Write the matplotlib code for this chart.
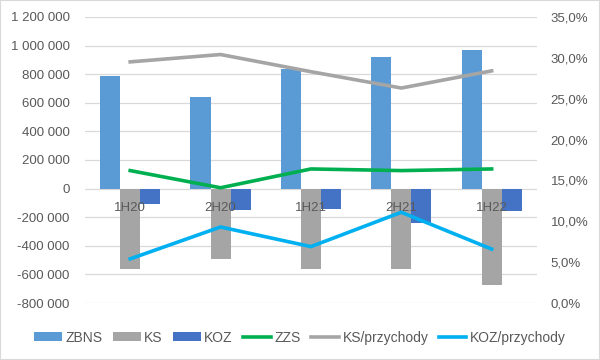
import numpy as np
import matplotlib.pyplot as plt
from matplotlib.ticker import FuncFormatter
from matplotlib.patches import Rectangle

plt.rcParams['font.family'] = ['Liberation Sans', 'DejaVu Sans']

periods = ['1H20', '2H20', '1H21', '2H21', '1H22']
zbns = [785000, 637000, 838000, 917000, 966000]
ks = [-564000, -494000, -563000, -564000, -676000]
koz = [-110000, -152000, -145000, -243000, -159000]
zzs = [0.162, 0.141, 0.164, 0.162, 0.164]
ks_przych = [0.295, 0.304, 0.283, 0.263, 0.284]
koz_przych = [0.054, 0.093, 0.069, 0.111, 0.066]

c_zbns = '#5B9BD5'
c_ks = '#A5A5A5'
c_koz = '#4472C4'
c_zzs = '#00B050'
c_kozp = '#00B0F0'
txt = '#595959'

fig = plt.figure(figsize=(6, 3.6), dpi=100)
fig.patches.append(Rectangle((0, 0), 1, 1, transform=fig.transFigure,
                             fill=False, edgecolor='#D9D9D9', lw=1.5))
ax = fig.add_axes([0.1417, 0.1583, 0.753, 0.7947])
x = np.arange(len(periods))
w = 0.222

ax.set_axisbelow(True)
ax.grid(axis='y', color='#D9D9D9', lw=0.9)
b1 = ax.bar(x - w, zbns, w, color=c_zbns, label='ZBNS')
b2 = ax.bar(x, ks, w, color=c_ks, label='KS')
b3 = ax.bar(x + w, koz, w, color=c_koz, label='KOZ')
ax.set_ylim(-800000, 1200000)
ax.set_yticks(np.arange(-800000, 1200001, 200000))
ax.yaxis.set_major_formatter(FuncFormatter(lambda v, p: f'{int(v):,}'.replace(',', ' ')))
ax.set_xlim(-0.5, len(periods) - 0.5)
ax.set_xticks([])
for s in ax.spines.values():
    s.set_visible(False)
ax.tick_params(axis='y', length=0, pad=11, labelsize=9.5, labelcolor=txt)
for i, p in enumerate(periods):
    ax.annotate(p, (i, 0), xytext=(0, -14), textcoords='offset points',
                ha='center', va='center', fontsize=9.5, color=txt, zorder=5)

ax2 = ax.twinx()
l1, = ax2.plot(x, zzs, color=c_zzs, lw=2.6, label='ZZS')
l2, = ax2.plot(x, ks_przych, color=c_ks, lw=2.6, label='KS/przychody')
l3, = ax2.plot(x, koz_przych, color=c_kozp, lw=2.6, label='KOZ/przychody')
ax2.set_ylim(0, 0.35)
ax2.set_yticks(np.arange(0, 0.351, 0.05))
ax2.yaxis.set_major_formatter(FuncFormatter(lambda v, p: f'{v*100:.1f}%'.replace('.', ',')))
for s in ax2.spines.values():
    s.set_visible(False)
ax2.tick_params(axis='y', length=0, pad=10, labelsize=9.5, labelcolor=txt)

fig.legend([b1, b2, b3, l1, l2, l3],
           ['ZBNS', 'KS', 'KOZ', 'ZZS', 'KS/przychody', 'KOZ/przychody'],
           loc='center', bbox_to_anchor=(0.5, 0.062), ncol=6, frameon=False,
           fontsize=10, labelcolor=txt, handlelength=2.0, handleheight=0.6,
           handletextpad=0.25, columnspacing=0.75)

fig.savefig('out.png', dpi=100)
